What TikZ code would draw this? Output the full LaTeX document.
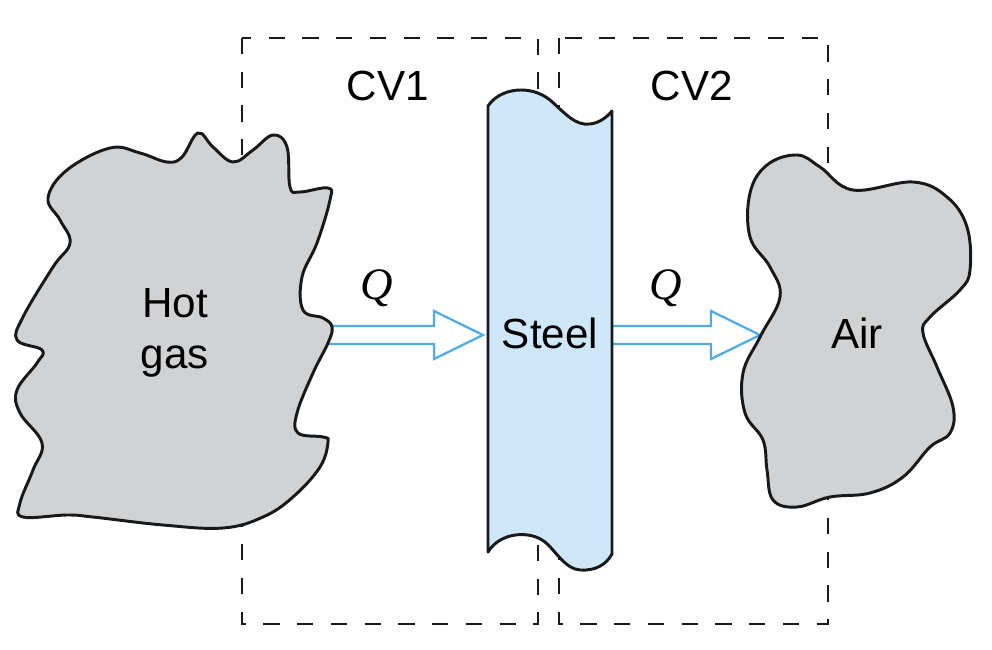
\documentclass[tikz,border=0pt]{standalone}
\usepackage{fix-cm}
\usepackage{fontspec}
\setmainfont{Liberation Sans}
\newfontfamily\qfont{Liberation Serif}
\usetikzlibrary{calc}
\definecolor{gasgray}{RGB}{209,210,212}
\definecolor{steelblue}{RGB}{206,232,250}
\definecolor{heatblue}{RGB}{77,172,232}

\begin{document}
\begin{tikzpicture}[x=0.025cm, y=-0.025cm,
  outline/.style={draw=black!90, line width=2.1pt, line join=round},
  blob/.style={outline, fill=gasgray},
  cvbox/.style={draw=black!90, line width=1.7pt, dash pattern=on 11.5pt off 12.5pt},
  heat/.style={draw=heatblue, line width=1.6pt, fill=white, line join=miter},
  lbl/.style={font=\fontsize{30}{36}\selectfont, align=center, inner sep=0pt},
  qlbl/.style={font=\fontsize{32}{36}\selectfont\qfont\itshape, inner sep=0pt}]

  \useasboundingbox (0,0) rectangle (992,650);

  % control volumes
  \draw[cvbox] (242,38) rectangle (538,624);
  \draw[cvbox] (559,38) rectangle (828,624);

  % heat flow arrows
  \coordinate (q1s) at (305,335);
  \coordinate (q1e) at (483,335);
  \coordinate (q2s) at (611,335);
  \coordinate (q2e) at (760,335);
  \draw[heat] ($(q1s)+(0,-9)$) -- ($(q1e)+(-49,-9)$) -- ($(q1e)+(-49,-24)$) -- (q1e)
    -- ($(q1e)+(-49,24)$) -- ($(q1e)+(-49,9)$) -- ($(q1s)+(0,9)$) -- cycle;
  \draw[heat] ($(q2s)+(0,-9)$) -- ($(q2e)+(-49,-9)$) -- ($(q2e)+(-49,-24)$) -- (q2e)
    -- ($(q2e)+(-49,24)$) -- ($(q2e)+(-49,9)$) -- ($(q2s)+(0,9)$) -- cycle;

  % hot gas
  \draw[blob] plot[smooth cycle, tension=0.65] coordinates {
    (48,198) (67,170) (110,148) (140,153) (167,162) (182,157) (198,133)
    (213,147) (233,162) (253,150) (273,135) (287,147) (290,187) (300,192)
    (328,188) (330,200) (317,243) (302,277) (303,310) (323,318) (332,327)
    (328,343) (313,373) (297,413) (298,433) (323,437) (328,442) (320,467)
    (293,497) (263,517) (223,528) (163,525) (93,517) (67,515) (23,517)
    (20,503) (33,470) (42,443) (20,413) (17,390) (37,363) (42,350)
    (17,340) (23,317) (53,267) (70,243) (60,220)};

  % air
  \draw[blob] plot[smooth cycle, tension=0.65] coordinates {
    (750,193) (767,165) (797,155) (820,167) (853,190) (913,182) (947,197)
    (967,227) (970,270) (960,290) (930,317) (923,333) (937,367) (953,407)
    (950,433) (930,447) (903,477) (870,493) (830,497) (797,507) (773,500)
    (767,470) (763,440) (745,413) (743,373) (760,337) (780,297) (770,267)
    (750,237)};

  % steel wall
  \draw[outline, fill=steelblue] (488,106) .. controls (500,88) and (530,84) .. (550,100)
    .. controls (565,113) and (575,126) .. (590,124)
    .. controls (600,123) and (608,116) .. (612,111)
    -- (612,554) .. controls (606,565) and (595,571) .. (580,570)
    .. controls (565,569) and (555,550) .. (545,542)
    .. controls (530,530) and (500,532) .. (488,552) -- cycle;

  \node[lbl] (cv1) at (388,86) {CV1};
  \node[lbl] (cv2) at (692,86) {CV2};
  \node[lbl] (gas) at (175,333) {Hot\\gas};
  \node[lbl] (steel) at (550,333) {Steel};
  \node[lbl] (air) at (857,333) {Air};
  \node[qlbl] (q1) at (377,288) {Q};
  \node[qlbl] (q2) at (666,288) {Q};
\end{tikzpicture}
\end{document}
